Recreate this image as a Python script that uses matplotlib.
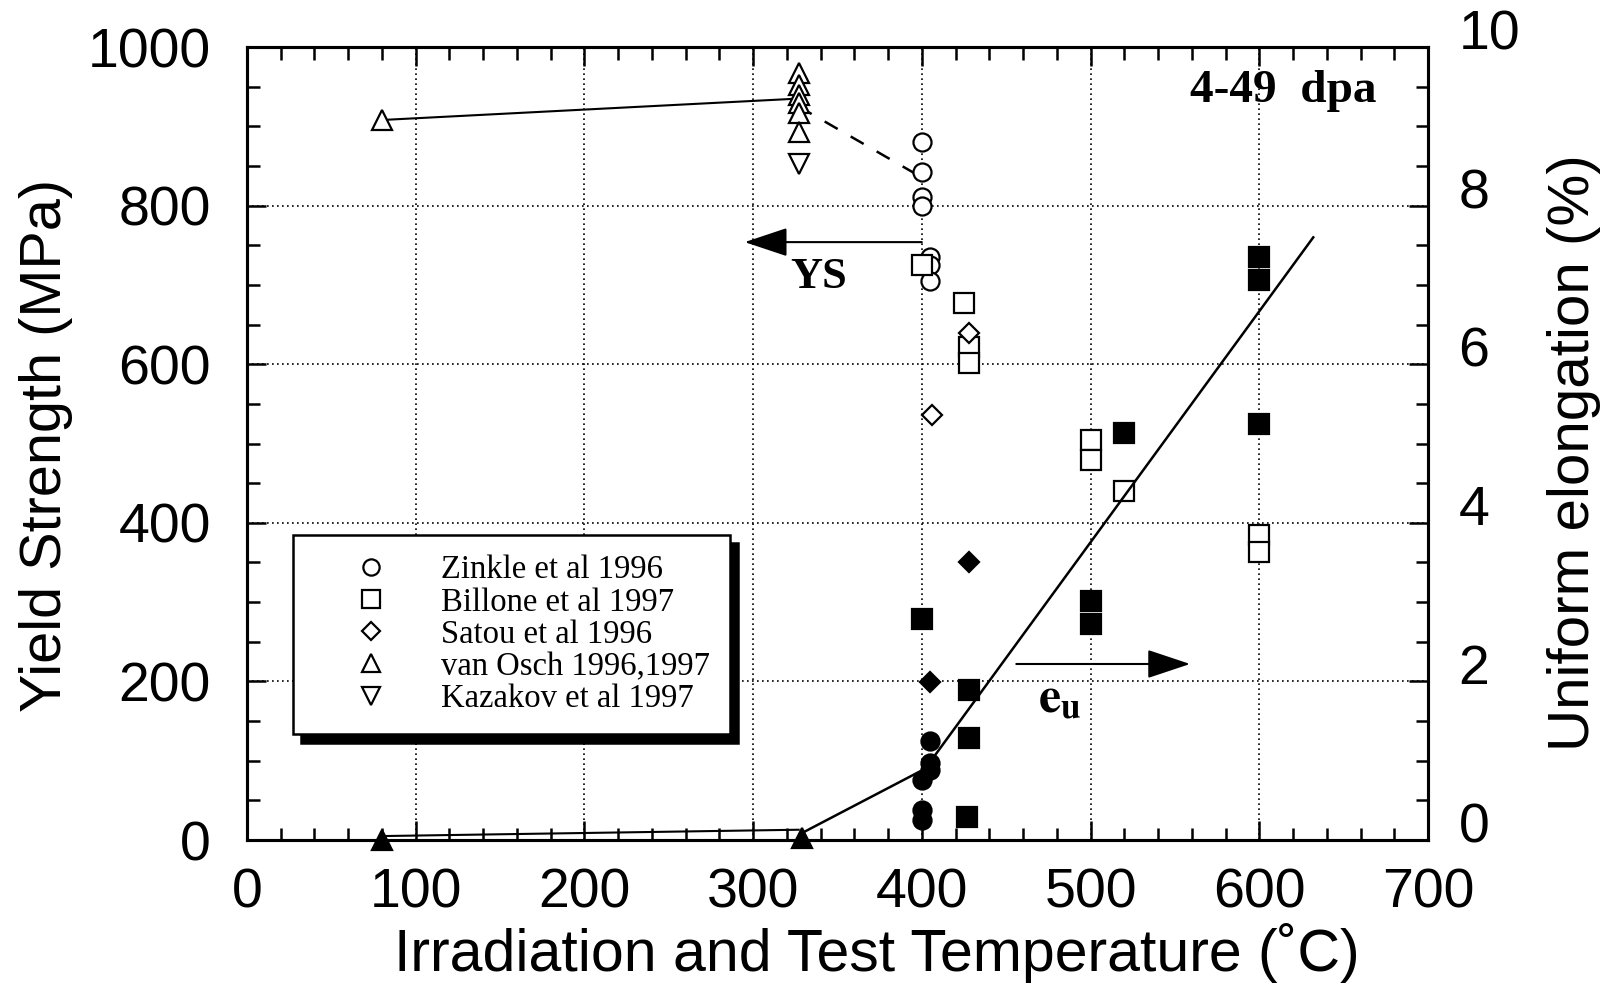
import numpy as np
import matplotlib
matplotlib.use('Agg')
import matplotlib.pyplot as plt
import matplotlib.transforms as mtransforms
from matplotlib.ticker import MultipleLocator

plt.rcParams['font.family'] = ['Liberation Sans', 'DejaVu Sans']
plt.rcParams['mathtext.fontset'] = 'stix'

# yield strength (MPa), open symbols, left axis
zinkle_T = [400, 400, 400, 400, 405, 405, 405]
zinkle_ys = [880, 843, 811, 800, 735, 725, 705]
billone_T = [400, 425, 428, 428, 500, 500, 520, 600, 600]
billone_ys = [725, 677, 622, 601, 504, 479, 440, 385, 363]
satou_T = [406, 428]
satou_ys = [536, 640]
osch_T = [80, 327, 327, 327, 327, 327, 327]
osch_ys = [908, 967, 952, 940, 929, 917, 893]
kazakov_T = [327]
kazakov_ys = [853]

# uniform elongation (%), filled symbols, right axis
zinkle_eu_T = [400, 400, 400, 405, 405, 405]
zinkle_eu = [0.25, 0.38, 0.76, 0.88, 0.97, 1.25]
billone_eu_T = [400, 428, 428, 427, 500, 500, 520, 600, 600, 600]
billone_eu = [2.79, 1.89, 1.29, 0.29, 3.01, 2.72, 5.13, 7.35, 7.06, 5.25]
satou_eu_T = [405, 428]
satou_eu = [1.99, 3.5]
osch_eu_T = [80, 329]
osch_eu = [0.0, 0.03]

# guide lines
ys_line_T = [80, 327]
ys_line = [908, 935]
ys_dash_T = [327, 398]
ys_dash = [925, 838]
eu_line_T = [80, 327]
eu_line = [0.05, 0.13]
eu_fit_T = [330, 402, 632]
eu_fit = [0.1, 0.9, 7.6]

labels = ['Zinkle et al 1996', 'Billone et al 1997', 'Satou et al 1996',
          'van Osch 1996,1997', 'Kazakov et al 1997']

fig = plt.figure(figsize=(16.13, 9.84), dpi=100)
ax = fig.add_axes([0.1531, 0.1463, 0.7322, 0.8059])
ax2 = ax.twinx()

op = dict(ls='none', mfc='white', mec='k', mew=1.6)
fl = dict(ls='none', mfc='k', mec='k', mew=1.6)

# lines
ax.plot(ys_line_T, ys_line, color='k', lw=1.5)
ax.plot(ys_dash_T, ys_dash, color='k', lw=1.8, dashes=(6, 6))
ax2.plot(eu_line_T, eu_line, color='k', lw=1.5)
ax2.plot(eu_fit_T, eu_fit, color='k', lw=1.8)

h1, = ax.plot(zinkle_T, zinkle_ys, marker='o', ms=13, **op)
h2, = ax.plot(billone_T, billone_ys, marker='s', ms=14, **op)
h3, = ax.plot(satou_T, satou_ys, marker='D', ms=10, **op)
h4, = ax.plot(osch_T, osch_ys, marker='^', ms=14, **op)
h5, = ax.plot(kazakov_T, kazakov_ys, marker='v', ms=14, **op)

ax2.plot(zinkle_eu_T, zinkle_eu, marker='o', ms=13, **fl)
ax2.plot(billone_eu_T, billone_eu, marker='s', ms=14, **fl)
ax2.plot(satou_eu_T, satou_eu, marker='D', ms=10, **fl)
ax2.plot(osch_eu_T, osch_eu, marker='^', ms=14, clip_on=False, **fl)

# axes, ticks, grid
ax.set_xlim(0, 700)
ax.set_ylim(0, 1000)
ax2.set_ylim(0, 10)
ax.set_xticks(range(0, 701, 100))
ax.set_yticks(range(0, 1001, 200))
ax2.set_yticks(range(0, 11, 2))
ax.xaxis.set_minor_locator(MultipleLocator(20))
ax.yaxis.set_minor_locator(MultipleLocator(50))
ax2.yaxis.set_minor_locator(MultipleLocator(0.5))

ax.grid(True, which='major', color='k', ls=(0, (1, 2)), lw=1.2)
ax.tick_params(which='both', direction='in', top=True, right=False, width=1.8)
ax.tick_params(which='major', length=14, labelsize=40)
ax.tick_params(which='minor', length=9)
ax.tick_params(axis='x', pad=20)
ax.tick_params(axis='y', pad=26)
ax2.tick_params(which='both', direction='in', width=1.8)
ax2.tick_params(which='major', length=14, labelsize=40, pad=22)
ax2.tick_params(which='minor', length=9)
for a in (ax, ax2):
    for s in a.spines.values():
        s.set_linewidth(2.2)

off = mtransforms.ScaledTranslation(0, 12.5 / 72, fig.dpi_scale_trans)
for lab in ax2.get_yticklabels():
    lab.set_transform(lab.get_transform() + off)

ax.set_xlabel('Irradiation and Test Temperature (\u02daC)', fontsize=42.5, va='center')
ax.xaxis.set_label_coords(0.533, -0.142)
ax.set_ylabel('Yield Strength (MPa)', fontsize=41.5, va='center')
ax.yaxis.set_label_coords(-0.170, 0.498)
ax2.set_ylabel('Uniform elongation (%)', fontsize=42, va='center')
ax2.yaxis.set_label_coords(1.1236, 0.488)

# annotations
ax.text(614, 945, '4-49  dpa', family='Liberation Serif', weight='bold',
        fontsize=34, ha='center', va='center')
ax.text(339, 710, 'YS', family='Liberation Serif', weight='bold',
        fontsize=32, ha='center', va='center')
ax2.text(469, 1.62, r'$\mathbf{e}_{\mathbf{u}}$', fontsize=36, ha='left', va='baseline')
arr = dict(arrowstyle='-|>,head_length=1.35,head_width=0.45', mutation_scale=20,
           lw=1.5, color='k', shrinkA=0, shrinkB=0)
ax.annotate('', xy=(295, 754), xytext=(400, 754), arrowprops=arr)
ax2.annotate('', xy=(559, 2.22), xytext=(456, 2.22), arrowprops=arr)

leg = ax2.legend([h1, h2, h3, h4, h5], labels, loc='upper left',
                 bbox_to_anchor=(0.039, 0.385), borderaxespad=0,
                 prop={'family': 'Liberation Serif', 'size': 23.5},
                 frameon=True, fancybox=False, edgecolor='k', framealpha=1,
                 shadow={'ox': 6, 'oy': -6, 'color': 'k', 'alpha': 1},
                 handlelength=3.52, handletextpad=0.39, borderpad=0.62,
                 labelspacing=0.05, markerscale=0.9)
leg.get_frame().set_linewidth(1.8)

fig.savefig('out.png', dpi=100)
